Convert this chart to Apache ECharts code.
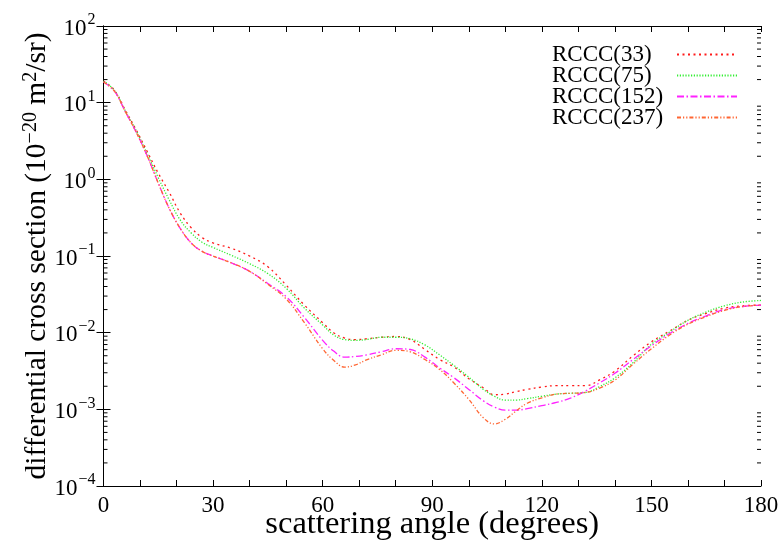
<!DOCTYPE html>
<html>
<head>
<meta charset="utf-8">
<script src="https://cdn.jsdelivr.net/npm/echarts@6/dist/echarts.min.js"></script>
<style>
html,body{margin:0;padding:0;background:#fff;}
#chart{width:783px;height:543px;}
</style>
</head>
<body>
<div id="chart"></div>
<script>
// ---- data ----
const angles = [0,3,6,9,12,15,18,21,24,27,30,35,40,45,50,55,60,63,66,69,72,76,80,84,88,92,96,100,104,107,110,113,116,120,124,128,132,136,140,145,150,155,160,165,170,175,180];

const rccc33 = [19.1,14.5,7.94,4.37,2.29,1.20,0.676,0.363,0.234,0.174,0.148,0.126,0.100,0.0724,0.0417,0.0229,0.0135,0.0100,0.00851,0.00813,0.00832,0.00871,0.00891,0.00813,0.00603,0.00447,0.00355,0.00251,0.00191,0.00155,0.00158,0.00170,0.00182,0.00195,0.00204,0.00204,0.00204,0.00245,0.00316,0.00501,0.00759,0.0105,0.0145,0.0178,0.0209,0.0224,0.0229];

const rccc75 = [19.1,14.5,7.76,4.27,2.14,1.05,0.537,0.295,0.200,0.151,0.129,0.102,0.0794,0.0589,0.0380,0.0209,0.0126,0.00933,0.00813,0.00794,0.00813,0.00871,0.00871,0.00832,0.00692,0.00513,0.00372,0.00263,0.00182,0.00148,0.00132,0.00132,0.00138,0.00148,0.00158,0.00162,0.00166,0.00200,0.00257,0.00407,0.00708,0.0102,0.0145,0.0186,0.0224,0.0251,0.0263];

const rccc152 = [18.6,14.1,7.59,4.07,2.00,0.891,0.417,0.229,0.148,0.115,0.100,0.0813,0.0631,0.0437,0.0295,0.0158,0.00794,0.00575,0.00479,0.00490,0.00513,0.00562,0.00617,0.00603,0.00479,0.00347,0.00257,0.00182,0.00129,0.00107,0.000977,0.000977,0.00102,0.00112,0.00123,0.00141,0.00174,0.00224,0.00295,0.00447,0.00676,0.00977,0.0132,0.0166,0.0200,0.0219,0.0229];

const rccc237 = [18.6,14.1,7.59,4.07,2.00,0.891,0.417,0.229,0.148,0.115,0.100,0.0813,0.0631,0.0427,0.0275,0.0135,0.00617,0.00437,0.00355,0.00380,0.00442,0.00513,0.00589,0.00562,0.00447,0.00331,0.00219,0.00135,0.000776,0.000646,0.000741,0.000955,0.00120,0.00141,0.00158,0.00162,0.00166,0.00191,0.00240,0.00389,0.00617,0.00933,0.0129,0.0162,0.0195,0.0219,0.0229];

const seriesNames = ['RCCC(33)','RCCC(75)','RCCC(152)','RCCC(237)'];
const xTickLabels = [0,30,60,90,120,150,180];

// ---- chart ----
const FONT = 'Liberation Serif';
const chart = echarts.init(document.getElementById('chart'), null, {renderer:'canvas'});

function pairs(ys){ return angles.map((a,i)=>[a, ys[i]]); }

const minorVals = [];
for (let e = -4; e < 2; e++) {
  for (let m = 2; m <= 9; m++) minorVals.push([0, m * Math.pow(10, e)]);
}

const supRich = {
  b:{fontFamily:FONT,fontSize:23,color:'#000',lineHeight:28,verticalAlign:'bottom'},
  s:{fontFamily:FONT,fontSize:16,color:'#000',lineHeight:28,verticalAlign:'top',padding:[0,0,0,1]}
};

function expLabel(v){
  const e = Math.round(Math.log10(v));
  const es = e < 0 ? '\u2212' + (-e) : String(e);
  return '{b|10}{s|' + es + '}';
}

const lineCommon = {type:'line', smooth:0.4, showSymbol:false, symbol:'none', xAxisIndex:0, yAxisIndex:0, z:3};

const option = {
  animation:false,
  backgroundColor:'#fff',
  grid:{left:103.5, right:22, top:26, bottom:57, containLabel:false, outerBoundsMode:'none'},
  legend:{
    data:seriesNames,
    orient:'vertical',
    left:547, top:38,
    align:'right',
    itemWidth:60, itemHeight:14,
    itemGap:-2,
    itemStyle:{opacity:0},
    formatter:function(n){ return '{a|' + n + '}'; },
    textStyle:{fontFamily:FONT,fontSize:23,color:'#000',
      rich:{a:{fontFamily:FONT,fontSize:23,color:'#000',width:120,align:'left',lineHeight:21}}},
    selectedMode:false
  },
  xAxis:[
    {type:'value', min:0, max:180, interval:10, position:'bottom',
     axisLine:{lineStyle:{color:'#000',width:1}},
     axisTick:{inside:true,length:6,lineStyle:{color:'#000'}},
     splitLine:{show:false},
     axisLabel:{fontFamily:FONT,fontSize:23,color:'#000',margin:8,
       formatter:function(v){ return xTickLabels.indexOf(v) >= 0 ? String(v) : ''; }},
     name:'scattering angle (degrees)', nameLocation:'middle', nameGap:22, nameMoveOverlap:false,
     nameTextStyle:{fontFamily:FONT,fontSize:32.5,color:'#000'}
    },
    {type:'value', min:0, max:180, interval:10, position:'top',
     axisLine:{lineStyle:{color:'#000',width:1}},
     axisTick:{inside:true,length:6,lineStyle:{color:'#000'}},
     axisLabel:{show:false}, splitLine:{show:false}}
  ],
  yAxis:[
    {type:'log', logBase:10, min:1e-4, max:100, position:'left',
     axisLine:{lineStyle:{color:'#000',width:1}},
     axisTick:{inside:true,length:7,lineStyle:{color:'#000'}},
     splitLine:{show:false},
     minorTick:{show:false},
     axisLabel:{margin:8, formatter:expLabel, rich:supRich},
     name:'differential cross section (10{s|\u221220} m{s|2}/sr)',
     nameLocation:'middle', nameRotate:90, nameGap:49, nameMoveOverlap:false,
     nameTextStyle:{fontFamily:FONT,fontSize:29.5,color:'#000',
       rich:{s:{fontFamily:FONT,fontSize:20,color:'#000',verticalAlign:'top',lineHeight:34}}}
    },
    {type:'log', logBase:10, min:1e-4, max:100, position:'right',
     axisLine:{lineStyle:{color:'#000',width:1}},
     axisTick:{inside:true,length:7,lineStyle:{color:'#000'}},
     axisLabel:{show:false}, splitLine:{show:false}}
  ],
  series:[
    Object.assign({}, lineCommon, {name:seriesNames[0], data:pairs(rccc33),
      lineStyle:{color:'#ff1a1a',width:1.3,type:[2,3.5]}, itemStyle:{color:'#ff1a1a'}}),
    Object.assign({}, lineCommon, {name:seriesNames[1], data:pairs(rccc75),
      lineStyle:{color:'#33ee33',width:1.3,type:[1.2,1.6]}, itemStyle:{color:'#33ee33'}}),
    Object.assign({}, lineCommon, {name:seriesNames[2], data:pairs(rccc152),
      lineStyle:{color:'#ff22ff',width:1.3,type:[7,2.5,1.5,2.5]}, itemStyle:{color:'#ff22ff'}}),
    Object.assign({}, lineCommon, {name:seriesNames[3], data:pairs(rccc237),
      lineStyle:{color:'#ff6633',width:1.3,type:[4,2,1.2,2,1.2,2]}, itemStyle:{color:'#ff6633'}}),
    {type:'custom', name:'minorTicks', silent:true, xAxisIndex:0, yAxisIndex:0, z:5,
     data:minorVals, clip:false,
     renderItem:function(params, api){
       const pL = api.coord([0, api.value(1)]);
       const pR = api.coord([180, api.value(1)]);
       return {type:'group', children:[
         {type:'line', shape:{x1:pL[0],y1:pL[1],x2:pL[0]+4,y2:pL[1]}, style:{stroke:'#000',lineWidth:1}},
         {type:'line', shape:{x1:pR[0]-4,y1:pR[1],x2:pR[0],y2:pR[1]}, style:{stroke:'#000',lineWidth:1}}
       ]};
     }}
  ]
};
chart.setOption(option);
</script>
</body>
</html>
